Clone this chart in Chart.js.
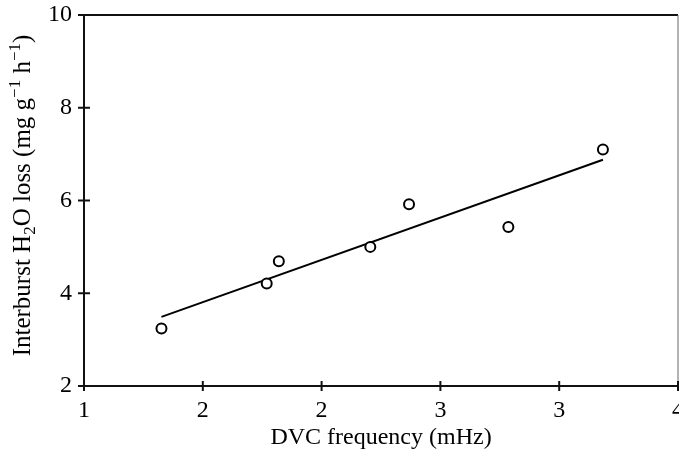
<!DOCTYPE html>
<html>
<head>
<meta charset="utf-8">
<title>Interburst H2O loss vs DVC frequency</title>
<script src="https://cdn.jsdelivr.net/npm/chart.js@4"></script>
<style>
  html, body { margin: 0; padding: 0; background: #fff; }
  #wrap { width: 679px; height: 456px; }
</style>
</head>
<body>
<div id="wrap"><canvas id="chart"></canvas></div>
<script>
  // data
  const freq = [1.326, 1.769, 1.820, 2.205, 2.368, 2.786, 3.184];
  const waterLoss = [3.24, 4.21, 4.69, 5.00, 5.92, 5.43, 7.10];
  const fitFreq = [1.326, 3.184];
  const fitLoss = [3.49, 6.88];

  const xTicks = [1, 1.5, 2, 2.5, 3, 3.5];
  const xTickLabels = ['1', '2', '2', '3', '3', '4'];
  const yTicks = [2, 4, 6, 8, 10];

  const xTitle = 'DVC frequency (mHz)';
  // y title has a subscript and two superscripts
  const yTitleParts = [
    { text: 'Interburst H', kind: 'normal' },
    { text: '2', kind: 'sub' },
    { text: 'O loss (mg g', kind: 'normal' },
    { text: '\u22121', kind: 'sup' },
    { text: ' h', kind: 'normal' },
    { text: '\u22121', kind: 'sup' },
    { text: ')', kind: 'normal' }
  ];

  const FONT = "'Liberation Serif', 'Times New Roman', serif";
  const INK = '#111';

  function line(ctx, x1, y1, x2, y2) {
    ctx.beginPath();
    ctx.moveTo(x1, y1);
    ctx.lineTo(x2, y2);
    ctx.stroke();
  }

  /** frame, crossing tick marks and the rich y title */
  const axisMarks = {
    id: 'axisMarks',
    afterDraw(chart) {
      const { ctx, chartArea: a, scales: { x, y } } = chart;
      ctx.save();
      ctx.strokeStyle = INK;
      ctx.lineWidth = 2;
      line(ctx, a.left, a.top, a.right, a.top);
      ctx.strokeStyle = '#666';
      ctx.lineWidth = 1;
      line(ctx, a.right, a.top, a.right, a.bottom);

      ctx.strokeStyle = INK;
      ctx.lineWidth = 2;
      xTicks.forEach(v => {
        const px = x.getPixelForValue(v);
        line(ctx, px, a.bottom - 5, px, a.bottom + 5);
      });
      yTicks.forEach(v => {
        const py = y.getPixelForValue(v);
        line(ctx, a.left - 6, py, a.left + 6, py);
      });

      // y title
      const sizes = { normal: 25, sub: 17, sup: 17 };
      const shift = { normal: 0, sub: 5, sup: -10 };
      let total = 0;
      yTitleParts.forEach(p => {
        ctx.font = sizes[p.kind] + 'px ' + FONT;
        p.w = ctx.measureText(p.text).width;
        total += p.w;
      });
      ctx.translate(30, (a.top + a.bottom) / 2 - 5);
      ctx.rotate(-Math.PI / 2);
      ctx.fillStyle = '#000';
      ctx.textBaseline = 'alphabetic';
      let cx = -total / 2;
      yTitleParts.forEach(p => {
        ctx.font = sizes[p.kind] + 'px ' + FONT;
        ctx.fillText(p.text, cx, shift[p.kind]);
        cx += p.w;
      });
      ctx.restore();
    }
  };

  const points = freq.map((f, i) => ({ x: f, y: waterLoss[i] }));
  const fit = fitFreq.map((f, i) => ({ x: f, y: fitLoss[i] }));

  new Chart(document.getElementById('chart'), {
    type: 'scatter',
    data: {
      datasets: [
        {
          type: 'scatter',
          data: points,
          pointRadius: 5,
          pointBorderWidth: 2,
          borderColor: '#000',
          backgroundColor: '#fff'
        },
        {
          type: 'line',
          data: fit,
          borderColor: '#000',
          borderWidth: 2,
          pointRadius: 0,
          fill: false
        }
      ]
    },
    options: {
      responsive: true,
      maintainAspectRatio: false,
      animation: false,
      devicePixelRatio: 1,
      layout: { autoPadding: false, padding: { top: 15, right: 1, left: 0, bottom: 0 } },
      plugins: { legend: { display: false }, tooltip: { enabled: false } },
      scales: {
        x: {
          type: 'linear',
          min: 1,
          max: 3.5,
          afterBuildTicks: s => { s.ticks = xTicks.map(v => ({ value: v })); },
          afterFit: s => { s.height = 70; s.paddingLeft = 0; s.paddingRight = 0; },
          grid: { display: true, drawOnChartArea: false, drawTicks: false },
          border: { display: true, color: INK, width: 2 },
          ticks: {
            padding: 10,
            maxRotation: 0,
            autoSkip: false,
            color: '#000',
            font: { family: FONT, size: 24 },
            callback: v => xTickLabels[xTicks.indexOf(v)]
          },
          title: {
            display: true,
            text: xTitle,
            color: '#000',
            font: { family: FONT, size: 24 },
            padding: { top: 0, bottom: 4 }
          }
        },
        y: {
          type: 'linear',
          min: 2,
          max: 10,
          afterBuildTicks: s => { s.ticks = yTicks.map(v => ({ value: v })); },
          afterFit: s => { s.width = 84; s.paddingTop = 0; s.paddingBottom = 0; },
          grid: { display: true, drawOnChartArea: false, drawTicks: false },
          border: { display: true, color: INK, width: 2 },
          ticks: {
            padding: 12,
            autoSkip: false,
            color: '#000',
            font: { family: FONT, size: 24 }
          }
        }
      }
    },
    plugins: [axisMarks]
  });
</script>
</body>
</html>
